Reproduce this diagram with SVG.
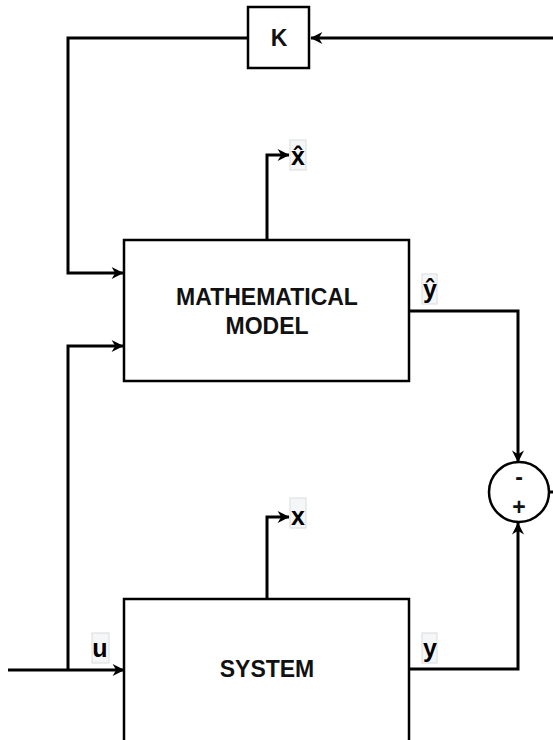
<svg xmlns="http://www.w3.org/2000/svg" width="553" height="740" viewBox="0 0 553 740">
<style>
.box{fill:#fff;stroke:#000;stroke-width:2.5}
.ln{fill:none;stroke:#000;stroke-width:3}
.t{font-family:"Liberation Sans",Arial,sans-serif;font-weight:bold;font-size:23px;text-anchor:middle;fill:#111}
.lb{font-family:"Liberation Sans","DejaVu Sans",Arial,sans-serif;font-weight:bold;font-size:25px;text-anchor:middle;fill:#000}
.lbg{fill:#f5f6f8;stroke:#dcdcdc;stroke-width:1}
</style>
<defs>
<marker id="ah" viewBox="0 0 10 10" refX="9.5" refY="5" markerWidth="13" markerHeight="12" markerUnits="userSpaceOnUse" orient="auto">
<path d="M0,0 L10,5 L0,10 L3,5 Z" fill="#000"/>
</marker>
</defs>
<rect width="553" height="740" fill="#fff"/>
<g id="connectors">
<path class="ln" d="M553,38 H311" marker-end="url(#ah)"/>
<path class="ln" d="M248,38 H68 V273 H123" marker-end="url(#ah)"/>
<path class="ln" d="M68,670 V346 H123" marker-end="url(#ah)"/>
<path class="ln" d="M8,670 H124" marker-end="url(#ah)"/>
<path class="ln" d="M267,240 V155 H289" marker-end="url(#ah)"/>
<path class="ln" d="M267,598 V517 H289" marker-end="url(#ah)"/>
<path class="ln" d="M409,311 H518 V462" marker-end="url(#ah)"/>
<path class="ln" d="M409,669 H518 V523" marker-end="url(#ah)"/>
<path class="ln" d="M549,492 H553"/>
</g>
<g id="K">
<rect class="box" x="248" y="7" width="61" height="61"/>
<text class="t" x="279" y="46">K</text>
</g>
<g id="model">
<rect class="box" x="124" y="240" width="285" height="141"/>
<text class="t" x="267" y="305">MATHEMATICAL</text>
<text class="t" x="267" y="334">MODEL</text>
</g>
<g id="system">
<rect class="box" x="124" y="599" width="285" height="150"/>
<text class="t" x="267" y="677">SYSTEM</text>
</g>
<g id="sum">
<circle cx="519" cy="492" r="30" fill="#fff" stroke="#000" stroke-width="2.5"/>
<text class="t" x="519" y="485">-</text>
<text class="t" x="519" y="515">+</text>
</g>
<g id="label-xhat">
<rect class="lbg" x="290" y="140" width="16" height="30"/>
<text class="lb" x="298" y="165">x̂</text>
</g>
<g id="label-x">
<rect class="lbg" x="290" y="498" width="16" height="30"/>
<text class="lb" x="298" y="525">x</text>
</g>
<g id="label-yhat">
<rect class="lbg" x="422" y="274" width="15" height="30"/>
<text class="lb" x="430" y="298">ŷ</text>
</g>
<g id="label-u">
<rect class="lbg" x="92" y="633" width="17" height="30"/>
<text class="lb" x="100" y="657">u</text>
</g>
<g id="label-y">
<rect class="lbg" x="422" y="633" width="15" height="30"/>
<text class="lb" x="430" y="657">y</text>
</g>
</svg>
